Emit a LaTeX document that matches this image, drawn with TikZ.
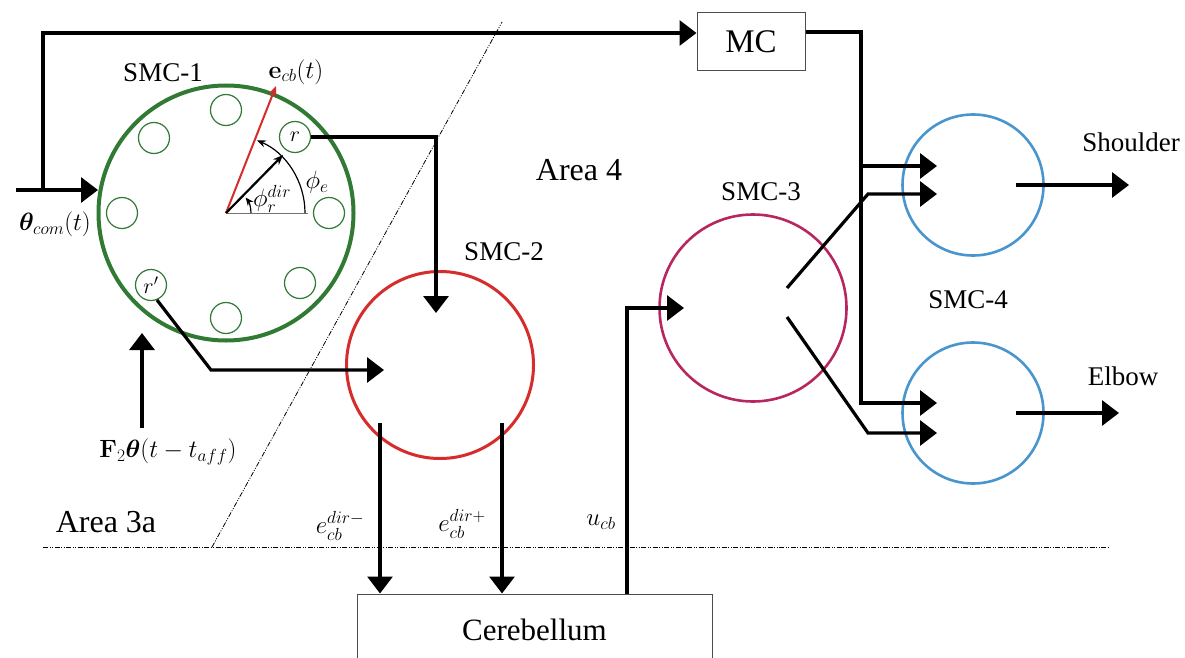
\documentclass[tikz,border=0pt]{standalone}
\usepackage{fix-cm}
\usepackage[no-math]{fontspec}
\setmainfont{Liberation Serif}
\usepackage{amsmath,bm}
\usetikzlibrary{arrows.meta,calc}
\definecolor{smcgreen}{RGB}{48,122,52}
\definecolor{smcred}{RGB}{214,44,44}
\definecolor{smcmag}{RGB}{184,38,96}
\definecolor{smcblue}{RGB}{72,150,205}
\begin{document}
\begin{tikzpicture}[x=1pt,y=-1pt,
  conn/.style={line width=3.2pt,-{Triangle[length=17pt,width=25pt]}},
  arealine/.style={line width=0.8pt,dash pattern=on 5pt off 1.5pt on 1pt off 1.5pt on 1pt off 1.5pt},
  neuron/.style={circle,draw=smcgreen,line width=1.2pt,minimum size=31pt,inner sep=0pt,font=\fontsize{22}{24}\selectfont},
  txt/.style={font=\fontsize{27}{30}\selectfont},
  bigtxt/.style={font=\fontsize{32}{36}\selectfont},
  mth/.style={font=\fontsize{25}{28}\selectfont},
  boxst/.style={draw=black!70,line width=1pt,inner sep=0pt}
]
\useasboundingbox (0,0) rectangle (1185,658);
\fill[white] (0,0) rectangle (1185,658);

% area separators
\coordinate (hl) at (43,547);
\coordinate (hr) at (1110,547);
\coordinate (dl) at (212,547);
\coordinate (dt) at (502,22);
\draw[arealine] (hl) -- (hr);
\draw[arealine] (dl) -- (dt);
\node[bigtxt] (area3a) at (106,522) {Area 3a};
\node[bigtxt] (area4) at (579,170) {Area 4};

% SMC-1
\node[circle,draw=smcgreen,line width=4pt,minimum size=255pt,inner sep=0pt] (smc1) at (226,213) {};
\node[txt] (smc1l) at (163,73) {SMC-1};
\node[neuron] (n1) at (226,110) {};
\node[neuron] (n2) at (154,138) {};
\node[neuron] (nr) at (295,137) {$r$};
\node[neuron] (n4) at (122,213) {};
\node[neuron] (n5) at (329,213) {};
\node[neuron] (nrp) at (151,285) {$r'$};
\node[neuron] (n7) at (300,283) {};
\node[neuron] (n8) at (226,318) {};

% angle construction
\coordinate (O) at (226,213);
\coordinate (gx) at (308,213);
\coordinate (ecb) at (276,86);
\coordinate (rdir) at (283,155);
\draw[black!55,line width=1pt] (O) -- (gx);
\draw[smcred,line width=2pt,-{Stealth[length=10pt,width=8pt]}] (O) -- (ecb);
\draw[line width=2.2pt,-{Stealth[length=10pt,width=8pt]}] (O) -- (rdir);
\draw[line width=1.2pt,-{Stealth[length=9pt,width=7pt]}] (305,213) arc[start angle=0,end angle=-67,radius=79];
\draw[line width=1.2pt,-{Stealth[length=8pt,width=7pt]}] (251,213) arc[start angle=0,end angle=-38,radius=25];
\node[mth] (ecbl) at (296,72) {$\mathbf{e}_{cb}(t)$};
\node[mth] (phie) at (317,182) {$\phi_e$};
\node[mth] (phir) at (272,199) {$\phi_r^{dir}$};

% theta_com input and top line to MC
\node[mth] (thl) at (55,224) {$\bm{\theta}_{com}(t)$};
\coordinate (thin) at (16,190);
\coordinate (tj) at (43,190);
\coordinate (tin) at (98,190);
\draw[conn] (thin) -- (tin);
\node[boxst,minimum width=108pt,minimum height=58pt,font=\fontsize{33}{36}\selectfont] (mc) at (751,42) {MC};
\coordinate (mcin) at (mc.west |- 0,33);
\draw[conn] (tj) |- (mcin);

% F2 theta input
\node[mth] (f2) at (168,452) {$\mathbf{F}_2\bm{\theta}(t-t_{aff})$};
\coordinate (f2s) at (142,428);
\coordinate (f2e) at (142,333);
\draw[conn] (f2s) -- (f2e);

% SMC-2
\node[circle,draw=smcred,line width=3pt,minimum size=187pt,inner sep=0pt] (smc2) at (440,365) {};
\node[txt] (smc2l) at (504,252) {SMC-2};
\coordinate (rc) at (436,137);
\coordinate (rend) at (436,313);
\draw[conn] (nr.east) -- (rc) -- (rend);
\coordinate (rps) at (157,300);
\coordinate (rpc) at (211,370);
\coordinate (rpe) at (384,370);
\draw[conn] (rps) -- (rpc) -- (rpe);

% Cerebellum
\node[boxst,minimum width=355pt,minimum height=72pt,font=\fontsize{31}{34}\selectfont] (cb) at (534.5,630) {Cerebellum};
\coordinate (em) at (380,423);
\coordinate (ep) at (502,423);
\draw[conn] (em) -- (em |- cb.north);
\draw[conn] (ep) -- (ep |- cb.north);
\node[mth] (eml) at (340,526) {$e_{cb}^{dir-}$};
\node[mth] (epl) at (462,524) {$e_{cb}^{dir+}$};
\node[mth] (ucl) at (601,522) {$u_{cb}$};

% SMC-3
\node[circle,draw=smcmag,line width=2.6pt,minimum size=187pt,inner sep=0pt] (smc3) at (753,308) {};
\node[txt] (smc3l) at (761,192) {SMC-3};
\coordinate (ucb) at (627,308);
\coordinate (s3in) at (684,308);
\draw[conn] (ucb |- cb.north) -- (ucb) -- (s3in);

% SMC-4
\node[circle,draw=smcblue,line width=2.6pt,minimum size=141pt,inner sep=0pt] (smc4a) at (973,185) {};
\node[circle,draw=smcblue,line width=2.6pt,minimum size=141pt,inner sep=0pt] (smc4b) at (973,413) {};
\node[txt] (smc4l) at (968,300) {SMC-4};

% MC to SMC-4
\coordinate (mco) at (mc.east |- 0,32);
\coordinate (mcv) at (861,32);
\coordinate (mcb1) at (861,166);
\coordinate (mcb2) at (861,403);
\coordinate (a1) at (937,166);
\coordinate (a2) at (937,403);
\draw[conn] (mco) -- (mcv) -- (mcb2) -- (a2);
\draw[conn] (mcb1) -- (a1);

% SMC-3 to SMC-4
\coordinate (s3u) at (787,288);
\coordinate (s3uc) at (868,194);
\coordinate (s3ue) at (937,194);
\coordinate (s3d) at (787,317);
\coordinate (s3dc) at (868,433);
\coordinate (s3de) at (937,433);
\draw[conn] (s3u) -- (s3uc) -- (s3ue);
\draw[conn] (s3d) -- (s3dc) -- (s3de);

% outputs
\coordinate (o1s) at (1016,185);
\coordinate (o1e) at (1129,185);
\coordinate (o2s) at (1016,413);
\coordinate (o2e) at (1119,413);
\draw[conn] (o1s) -- (o1e);
\draw[conn] (o2s) -- (o2e);
\node[txt] (shl) at (1131,142) {Shoulder};
\node[txt] (elb) at (1123,376) {Elbow};
\end{tikzpicture}
\end{document}
